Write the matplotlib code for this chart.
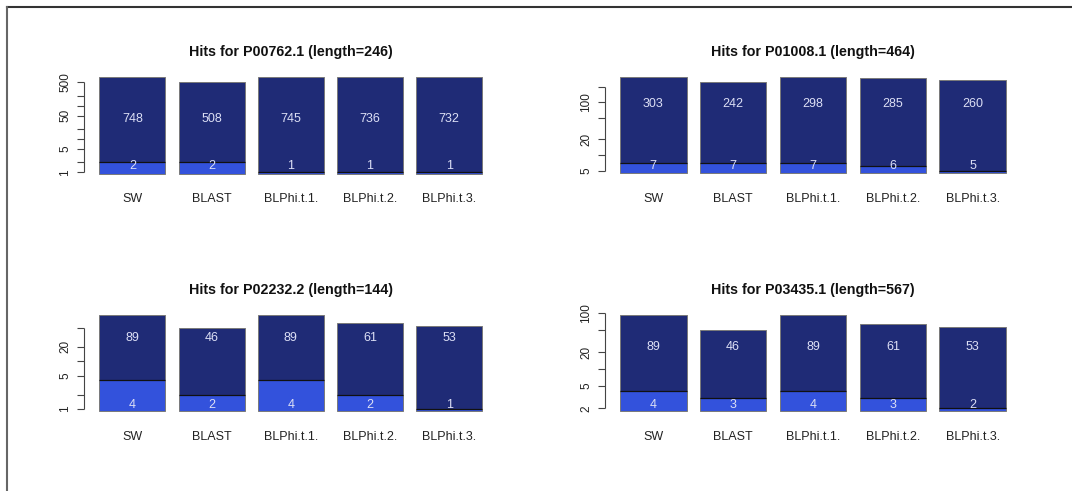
import numpy as np
import matplotlib
matplotlib.use("Agg")
import matplotlib.pyplot as plt
from matplotlib.lines import Line2D

plt.rcParams['font.family'] = ['Liberation Sans', 'DejaVu Sans']

names = ['SW', 'BLAST', 'BLPhi.t.1.', 'BLPhi.t.2.', 'BLPhi.t.3.']

titles = ['Hits for P00762.1 (length=246)', 'Hits for P01008.1 (length=464)',
          'Hits for P02232.2 (length=144)', 'Hits for P03435.1 (length=567)']

# best hits (bottom segment) and all hits (upper segment)
p1_low = [2, 2, 1, 1, 1]
p1_high = [748, 508, 745, 736, 732]
p2_low = [7, 7, 7, 6, 5]
p2_high = [303, 242, 298, 285, 260]
p3_low = [4, 2, 4, 2, 1]
p3_high = [89, 46, 89, 61, 53]
p4_low = [4, 3, 4, 3, 2]
p4_high = [89, 46, 89, 61, 53]

# log axis ticks, and which of them carry a label
p1_ticks = [1, 2, 5, 10, 20, 50, 100, 200, 500]
p1_ticklab = [1, 5, 50, 500]
p2_ticks = [5, 10, 20, 50, 100, 200]
p2_ticklab = [5, 20, 100]
p3_ticks = [1, 2, 5, 10, 20, 50]
p3_ticklab = [1, 5, 20]
p4_ticks = [2, 5, 10, 20, 50, 100]
p4_ticklab = [2, 5, 20, 100]

col_high = '#1f2b76'
col_low = '#3352dc'
col_txt = '#dcdff5'

panels = [
    (titles[0], p1_low, p1_high, p1_ticks, p1_ticklab, 0.562),
    (titles[1], p2_low, p2_high, p2_ticks, p2_ticklab, 0.703),
    (titles[2], p3_low, p3_high, p3_ticks, p3_ticklab, 0.747),
    (titles[3], p4_low, p4_high, p4_ticks, p4_ticklab, 0.660),
]

W, H = 1072, 491
fig = plt.figure(figsize=(W / 100, H / 100), dpi=100)

# plot regions in pixels: left, top, width, height
boxes = [(84, 72.6, 413.5, 106.7), (604.5, 72.6, 417, 106.7),
         (84, 310.7, 413.5, 106.7), (604.5, 310.7, 417, 106.7)]


def barplot_log(ax, low, high, ticks, ticklab, lab_y, title):
    low = np.array(low, dtype=float)
    high = np.array(high, dtype=float)
    top = low + high
    x = 0.7 + 1.2 * np.arange(len(names))
    base = 0.9 * min(low.min(), high.min())

    # same range rule as a stacked log barplot in R
    lo, hi = np.log10(0.9 * base), np.log10(top.max())
    ext = 0.04 * (hi - lo)
    ax.set_yscale('log')
    ax.set_ylim(10 ** (lo - ext), 10 ** (hi + ext))
    ax.set_xlim(0.2 - 0.04 * 5.8, 6.0 + 0.04 * 5.8)

    ax.bar(x, high, width=1, bottom=low, color=col_high, edgecolor='#7a7a7a', linewidth=0.7)
    ax.bar(x, low - base, width=1, bottom=base, color=col_low, edgecolor='#7a7a7a', linewidth=0.7)
    ax.hlines(low, x - 0.5, x + 0.5, color='#111111', linewidth=0.9)

    for xi, l, h in zip(x, low, high):
        ax.text(xi, 0.12, '%d' % l, transform=ax.get_xaxis_transform(),
                ha='center', va='center', color=col_txt, fontsize=9)
        ax.text(xi, lab_y, '%d' % h, transform=ax.get_xaxis_transform(),
                ha='center', va='center', color=col_txt, fontsize=9)

    for s in ['top', 'right', 'bottom', 'left']:
        ax.spines[s].set_visible(False)
    ax.vlines(0, ticks[0], ticks[-1], transform=ax.get_yaxis_transform(),
              color='#444444', linewidth=0.8, clip_on=False)
    ax.yaxis.set_minor_locator(matplotlib.ticker.NullLocator())
    ax.set_yticks(ticks, [str(t) if t in ticklab else '' for t in ticks])
    ax.tick_params(axis='y', direction='out', length=5, width=0.8, color='#444444',
                   labelsize=8.5, labelcolor='#222222', labelrotation=90, pad=4)
    for t in ax.get_yticklabels():
        t.set_va('center')
    ax.set_xticks(x, names)
    ax.tick_params(axis='x', length=0, labelsize=9, labelcolor='#222222', pad=10)
    ax.set_title(title, fontsize=10.3, fontweight='bold', pad=12, color='#111111')


for (l, t, w, h), (title, low, high, ticks, ticklab, lab_y) in zip(boxes, panels):
    ax = fig.add_axes([l / W, 1 - (t + h) / H, w / W, h / H])
    ax.patch.set_alpha(0)
    barplot_log(ax, low, high, ticks, ticklab, lab_y, title)

# window frame around the device
fig.add_artist(Line2D([7 / W, 1], [1 - 7 / H, 1 - 7 / H], color='#333333', linewidth=1.5))
fig.add_artist(Line2D([7 / W, 7 / W], [0, 1 - 7 / H], color='#666666', linewidth=1.5))

fig.savefig('out.png', dpi=100)
